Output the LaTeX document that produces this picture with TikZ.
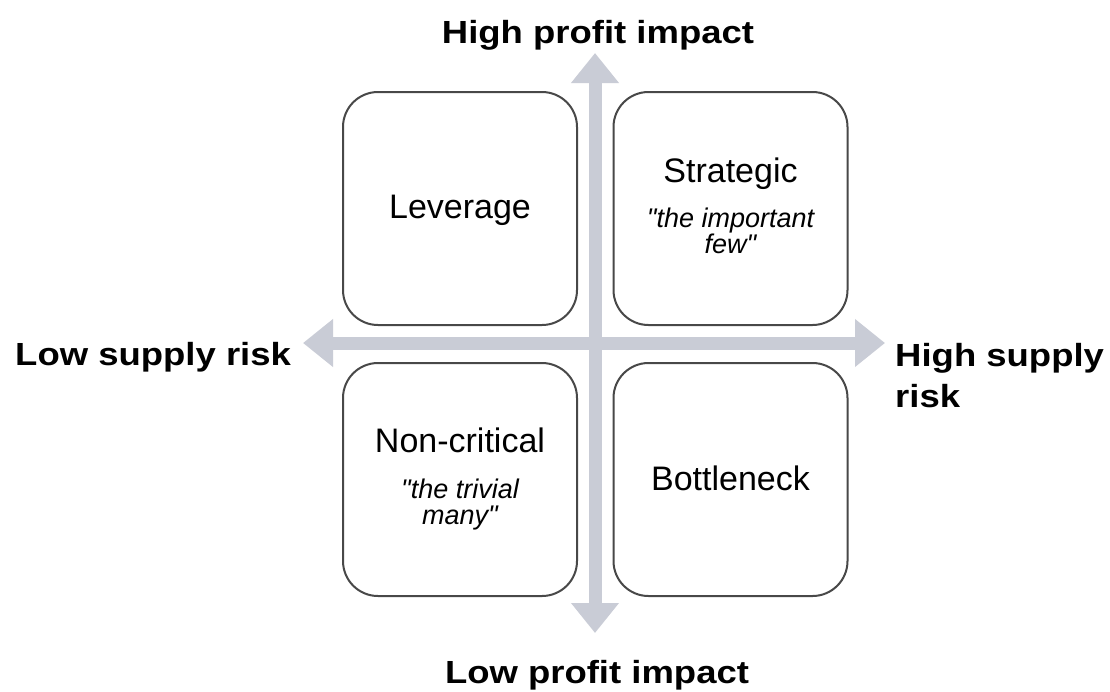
\documentclass[tikz,border=0pt]{standalone}
\usepackage{fontspec}
\setmainfont{Liberation Sans}[Ligatures=TeXOff]
\usetikzlibrary{arrows.meta}
\definecolor{axisgrey}{HTML}{C9CCD6}
\definecolor{boxline}{HTML}{484848}
\begin{document}
\begin{tikzpicture}[x=1pt,y=-1pt,
  quad/.style={draw=boxline, line width=2pt, fill=white, rounded corners=35pt,
    minimum width=234pt, minimum height=233pt, inner sep=0pt},
  axislabel/.style={font=\bfseries\fontsize{32}{41}\selectfont, xscale=1.14,
    transform shape, inner sep=0pt, align=left},
  quadtitle/.style={font=\fontsize{34}{40}\selectfont, inner sep=0pt},
  quadquote/.style={font=\itshape\fontsize{27}{26}\selectfont, align=center, inner sep=0pt},
  axisarrow/.style={draw=axisgrey, line width=13pt,
    {Triangle[width=46pt,length=30pt]}-{Triangle[width=46pt,length=30pt]}}
]
\path[use as bounding box, fill=white] (0,0) rectangle (1110,691);

% axes
\coordinate (top) at (595,53);
\coordinate (bottom) at (595,633);
\coordinate (left) at (303,343);
\coordinate (right) at (885,343);
\draw[axisarrow] (bottom) -- (top);
\draw[axisarrow] (left) -- (right);

% quadrant boxes
\node[quad] (lev) at (460,208.5) {};
\node[quad] (str) at (730.5,208.5) {};
\node[quad] (non) at (460,479.5) {};
\node[quad] (bot) at (730.5,479.5) {};

% box texts
\node[quadtitle, anchor=base] (levt) at (lev.center |- 0,218) {Leverage};
\node[quadtitle, anchor=base] (strt) at (str.center |- 0,182) {Strategic};
\node[quadquote, anchor=north] (strq) at (str.center |- 0,207.5) {"the important\\few"};
\node[quadtitle, anchor=base] (nont) at (non.center |- 0,452) {Non-critical};
\node[quadquote, anchor=north] (nonq) at (non.center |- 0,478.5) {"the trivial\\many"};
\node[quadtitle, anchor=base] (bott) at (bot.center |- 0,490) {Bottleneck};

% axis labels
\node[axislabel, anchor=base] (hpi) at (598,43) {High profit impact};
\node[axislabel, anchor=base] (lpi) at (597,683) {Low profit impact};
\node[axislabel, anchor=base west] (lsr) at (15,365) {Low supply risk};
\node[axislabel, anchor=north west] (hsr) at (895,343.5) {High supply\\risk};
\end{tikzpicture}
\end{document}
